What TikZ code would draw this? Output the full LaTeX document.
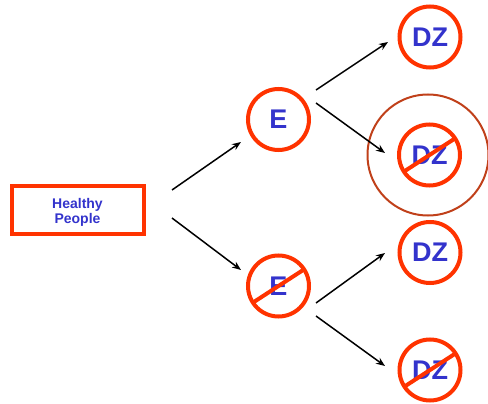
\documentclass[tikz,border=0pt]{standalone}
\usepackage{fontspec}
\setmainfont{Liberation Sans}
\usetikzlibrary{arrows.meta}
\definecolor{ringred}{HTML}{FF3300}
\definecolor{ringbrown}{HTML}{C0401A}
\definecolor{labelblue}{HTML}{3333CC}
\tikzset{
  ring/.style={circle, draw=ringred, line width=4pt, minimum size=61pt,
    inner sep=0pt, outer sep=0pt, text=labelblue, font=\bfseries\fontsize{27}{30}\selectfont},
  strike/.style={draw=ringred, line width=4pt},
  arr/.style={draw=black, line width=1.5pt, -{Stealth[length=9pt,width=7pt]}},
  startbox/.style={draw=ringred, line width=4pt, minimum width=132pt, minimum height=48pt,
    inner sep=0pt, outer sep=0pt},
  boxtext/.style={text=labelblue, align=center, inner sep=0pt,
    font=\bfseries\fontsize{14}{15}\selectfont}
}
\begin{document}
\begin{tikzpicture}[x=1pt,y=-1pt]
  \useasboundingbox (0,0) rectangle (488,404);
  % outer ring marking the exposed, disease-free outcome
  \node[circle, draw=ringbrown, line width=2pt, minimum size=121pt, inner sep=0pt, outer sep=0pt] (big) at (428,155) {};
  % population and exposure / outcome circles
  \node[startbox, label={[boxtext, yshift=-2.5pt]center:Healthy\\People}] (h) at (77.5,209.5) {};
  \node[ring] (e1) at (278.5,119.5) {E};
  \node[ring] (e2) at (278.5,286) {E};
  \node[ring] (dz1) at (430,37) {DZ};
  \node[ring] (dz2) at (429.5,155) {DZ};
  \node[ring] (dz3) at (430,252.5) {DZ};
  \node[ring] (dz4) at (430,370) {DZ};
  % strike-through lines for "not"
  \draw[strike] (e2.213) -- (e2.33);
  \draw[strike] (dz2.213) -- (dz2.33);
  \draw[strike] (dz4.213) -- (dz4.33);
  % branches
  \draw[arr] ([shift={(28.5,-19.5)}]h.east) -- ([shift={(-37.5,22.5)}]e1.center);
  \draw[arr] ([shift={(28.5,8.5)}]h.east) -- ([shift={(-37.5,-16)}]e2.center);
  \draw[arr] ([shift={(37.5,-29.5)}]e1.center) -- ([shift={(-42,5)}]dz1.center);
  \draw[arr] ([shift={(37.5,-16.5)}]e1.center) -- ([shift={(-44.5,-2)}]dz2.center);
  \draw[arr] ([shift={(37.5,17)}]e2.center) -- ([shift={(-45,0.5)}]dz3.center);
  \draw[arr] ([shift={(37.5,30)}]e2.center) -- ([shift={(-45,-4)}]dz4.center);
\end{tikzpicture}
\end{document}
